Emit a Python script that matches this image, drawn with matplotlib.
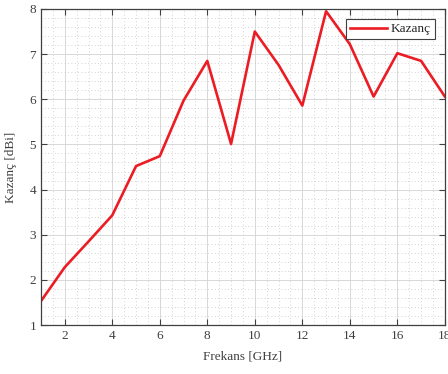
import matplotlib
matplotlib.use('Agg')
import matplotlib.pyplot as plt
from matplotlib.ticker import MultipleLocator

frekans = [1, 2, 3, 4, 5, 6, 7, 8, 9, 10, 11, 12, 13, 14, 15, 16, 17, 18]
kazanc = [1.53, 2.28, 2.85, 3.43, 4.52, 4.74, 5.97, 6.85, 5.01, 7.50,
          6.76, 5.86, 7.95, 7.22, 6.06, 7.02, 6.85, 6.06]

plt.rcParams['font.family'] = ['Liberation Serif', 'DejaVu Serif']
axis_color = '#404040'


def main():
    fig = plt.figure(figsize=(4.48, 3.74), dpi=100)
    ax = fig.add_axes([0.0915, 0.131, 0.9015, 0.845])

    ax.plot(frekans, kazanc, color='#ec1c24', linewidth=1.9, label='Kazanç')

    ax.set_xlim(1, 18)
    ax.set_ylim(1, 8)
    ax.xaxis.set_major_locator(MultipleLocator(2))
    ax.xaxis.set_minor_locator(MultipleLocator(0.5))
    ax.yaxis.set_major_locator(MultipleLocator(1))
    ax.yaxis.set_minor_locator(MultipleLocator(0.2))

    ax.grid(which='major', color='#d8d8d8', linewidth=0.7, linestyle='-')
    ax.grid(which='minor', color='#c4c4c4', linewidth=0.6, linestyle=(0, (1, 3)))
    ax.set_axisbelow(True)

    ax.tick_params(which='both', direction='in', top=True, right=True,
                   colors=axis_color, labelsize=9.5)
    ax.tick_params(which='major', length=4, width=0.8)
    ax.tick_params(which='minor', length=0)
    for s in ax.spines.values():
        s.set_color(axis_color)
        s.set_linewidth(0.9)

    ax.set_xlabel('Frekans [GHz]', fontsize=9.5, color=axis_color, labelpad=6)
    ax.set_ylabel('Kazanç [dBi]', fontsize=9.5, color=axis_color, labelpad=9)

    leg = ax.legend(loc='upper right', fontsize=9.5, fancybox=False,
                    framealpha=1, edgecolor=axis_color, borderpad=0.3,
                    handlelength=2.8, handletextpad=0.3, borderaxespad=0,
                    bbox_to_anchor=(0.975, 0.968))
    leg.get_frame().set_linewidth(0.8)
    for t in leg.get_texts():
        t.set_color('#262626')

    fig.savefig('out.png', dpi=100)


if __name__ == '__main__':
    main()
